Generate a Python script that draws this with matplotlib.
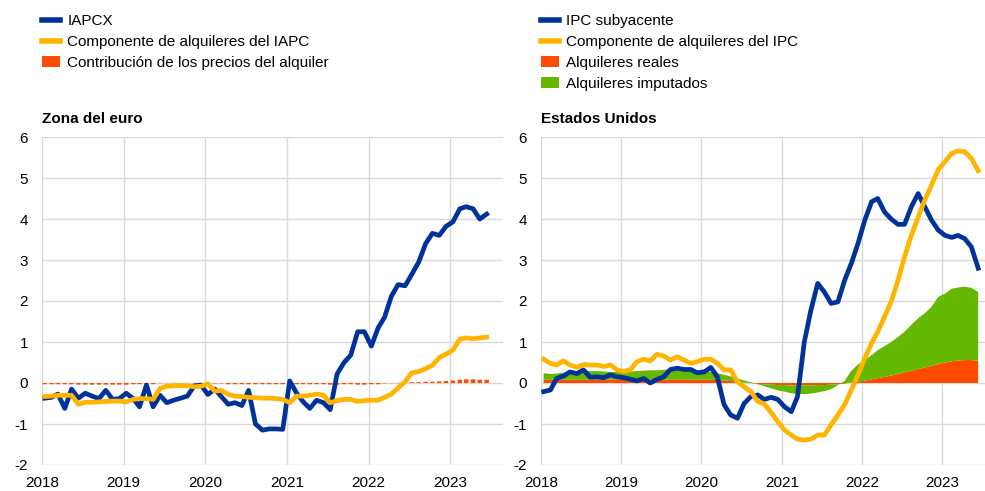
import matplotlib
matplotlib.use("Agg")
import matplotlib.pyplot as plt
import matplotlib.dates as mdates
from matplotlib.lines import Line2D
from matplotlib.patches import Patch
import numpy as np
import pandas as pd

plt.rcParams['font.family'] = ['Liberation Sans', 'DejaVu Sans']
plt.rcParams['axes.unicode_minus'] = False

# --- Data (monthly, Jan 2018 - Jun 2023) ---
months = pd.date_range('2018-01-01', periods=66, freq='MS') + pd.Timedelta(days=12)

# Zona del euro
ea_iapcx = [-0.37, -0.35, -0.27, -0.62, -0.15, -0.37, -0.25, -0.32, -0.38, -0.18, -0.40, -0.38,
            -0.25, -0.38, -0.58, -0.05, -0.58, -0.30, -0.48, -0.42, -0.37, -0.32, -0.07, -0.05,
            -0.28, -0.15, -0.33, -0.52, -0.48, -0.55, -0.18, -1.00, -1.15, -1.12, -1.12, -1.13,
            0.05, -0.25, -0.45, -0.62, -0.42, -0.48, -0.65, 0.22, 0.50, 0.68, 1.25, 1.25,
            0.90, 1.35, 1.60, 2.12, 2.40, 2.37, 2.65, 2.95, 3.40, 3.65, 3.60, 3.82,
            3.93, 4.25, 4.30, 4.25, 4.00, 4.12]
ea_rent = [-0.33, -0.32, -0.30, -0.30, -0.30, -0.52, -0.47, -0.47, -0.46, -0.45, -0.44, -0.44,
           -0.46, -0.40, -0.38, -0.38, -0.40, -0.13, -0.08, -0.07, -0.06, -0.07, -0.09, -0.08,
           -0.02, -0.20, -0.18, -0.28, -0.32, -0.33, -0.35, -0.36, -0.37, -0.37, -0.38, -0.40,
           -0.48, -0.32, -0.32, -0.30, -0.27, -0.30, -0.48, -0.43, -0.40, -0.40, -0.45, -0.43,
           -0.42, -0.42, -0.35, -0.27, -0.12, 0.03, 0.25, 0.28, 0.35, 0.43, 0.62, 0.70,
           0.80, 1.07, 1.10, 1.08, 1.10, 1.12]
ea_contrib = [-0.03, -0.03, -0.03, -0.03, -0.03, -0.04, -0.04, -0.04, -0.04, -0.04, -0.04, -0.04,
              -0.04, -0.03, -0.03, -0.03, -0.03, -0.005, -0.005, -0.005, -0.005, -0.005, -0.005, -0.005,
              -0.002, -0.01, -0.01, -0.03, -0.03, -0.03, -0.03, -0.03, -0.03, -0.03, -0.03, -0.03,
              -0.04, -0.03, -0.03, -0.03, -0.03, -0.03, -0.04, -0.04, -0.03, -0.03, -0.04, -0.04,
              -0.03, -0.03, -0.01, -0.005, -0.005, 0.01, 0.02, 0.02, 0.03, 0.03, 0.04, 0.05,
              0.06, 0.08, 0.09, 0.09, 0.08, 0.08]

# Estados Unidos
us_core = [-0.21, -0.17, 0.11, 0.17, 0.27, 0.23, 0.32, 0.14, 0.15, 0.13, 0.20, 0.15,
           0.13, 0.09, 0.05, 0.11, 0.00, 0.09, 0.15, 0.33, 0.36, 0.33, 0.33, 0.25,
           0.27, 0.38, 0.15, -0.53, -0.78, -0.86, -0.50, -0.33, -0.29, -0.40, -0.35, -0.40,
           -0.58, -0.70, -0.33, 1.00, 1.78, 2.43, 2.22, 1.94, 1.98, 2.50, 2.92, 3.40,
           3.97, 4.42, 4.50, 4.17, 4.00, 3.87, 3.87, 4.30, 4.62, 4.30, 3.97, 3.73,
           3.60, 3.55, 3.60, 3.52, 3.32, 2.80]
us_rent = [0.58, 0.48, 0.44, 0.54, 0.44, 0.38, 0.45, 0.44, 0.44, 0.40, 0.44, 0.32,
           0.28, 0.33, 0.52, 0.58, 0.54, 0.70, 0.66, 0.56, 0.64, 0.56, 0.48, 0.52,
           0.58, 0.58, 0.48, 0.32, 0.32, 0.03, -0.09, -0.21, -0.45, -0.51, -0.72, -0.94,
           -1.15, -1.27, -1.37, -1.39, -1.37, -1.27, -1.27, -1.02, -0.78, -0.53, -0.17, 0.20,
           0.60, 0.97, 1.25, 1.62, 1.98, 2.50, 3.08, 3.60, 4.05, 4.46, 4.83, 5.20,
           5.40, 5.60, 5.66, 5.64, 5.48, 5.18]
us_real = [0.08, 0.08, 0.08, 0.08, 0.08, 0.08, 0.08, 0.08, 0.08, 0.08, 0.08, 0.08,
           0.08, 0.08, 0.08, 0.08, 0.08, 0.08, 0.08, 0.08, 0.08, 0.08, 0.08, 0.08,
           0.08, 0.08, 0.07, 0.06, 0.05, 0.03, 0.01, 0.00, -0.02, -0.03, -0.04, -0.05,
           -0.05, -0.06, -0.06, -0.06, -0.06, -0.05, -0.05, -0.04, -0.03, -0.01, 0.01, 0.03,
           0.06, 0.09, 0.12, 0.15, 0.18, 0.22, 0.26, 0.30, 0.34, 0.38, 0.42, 0.46,
           0.50, 0.53, 0.55, 0.56, 0.56, 0.54]
us_imputed = [0.16, 0.14, 0.15, 0.17, 0.19, 0.20, 0.21, 0.21, 0.21, 0.20, 0.19, 0.19,
              0.19, 0.20, 0.21, 0.22, 0.23, 0.23, 0.24, 0.25, 0.25, 0.23, 0.21, 0.20,
              0.19, 0.19, 0.17, 0.14, 0.11, 0.08, 0.05, 0.02, -0.01, -0.05, -0.09, -0.13,
              -0.16, -0.19, -0.21, -0.21, -0.20, -0.18, -0.15, -0.11, -0.02, 0.06, 0.29, 0.42,
              0.50, 0.59, 0.68, 0.75, 0.82, 0.90, 0.99, 1.12, 1.24, 1.32, 1.44, 1.64,
              1.68, 1.77, 1.78, 1.79, 1.76, 1.68]

BLUE = '#003299'
YELLOW = '#FFB400'
RED = '#FF4B00'
GREEN = '#65B800'
GRID = '#d9d9d9'

W, H = 985, 491
fig = plt.figure(figsize=(W / 100, H / 100), dpi=100)

ax1 = fig.add_axes([42 / W, 26 / H, 461 / W, 328 / H])
ax2 = fig.add_axes([541 / W, 26 / H, 444 / W, 328 / H])


def style(ax, xend):
    ax.set_ylim(-2, 6)
    ax.set_yticks(range(-2, 7))
    ax.set_xlim(pd.Timestamp('2018-01-01'), pd.Timestamp(xend))
    ax.xaxis.set_major_locator(mdates.YearLocator())
    ax.xaxis.set_major_formatter(mdates.DateFormatter('%Y'))
    ax.grid(True, color=GRID, linewidth=1)
    ax.set_axisbelow(True)
    for s in ax.spines.values():
        s.set_visible(False)
    ax.tick_params(length=0, labelsize=11, colors='black')
    ax.tick_params(axis='y', pad=10)
    ax.tick_params(axis='x', pad=8)


LW = 3.4

# Left panel
ax1.bar(months, ea_contrib, width=20, color=RED, linewidth=0, snap=False, zorder=2)
ax1.plot(months, ea_iapcx, color=BLUE, linewidth=LW, zorder=3, solid_joinstyle='round')
ax1.plot(months, ea_rent, color=YELLOW, linewidth=LW, zorder=4, solid_joinstyle='round')
style(ax1, '2023-08-25')
ax1.text(0, 1.035, 'Zona del euro', transform=ax1.transAxes, fontsize=11,
         fontweight='bold', ha='left', va='bottom')

# Right panel
ax2.stackplot(months, us_real, us_imputed, colors=[RED, GREEN], zorder=2, linewidth=0)
ax2.plot(months, us_core, color=BLUE, linewidth=LW, zorder=3, solid_joinstyle='round')
ax2.plot(months, us_rent, color=YELLOW, linewidth=LW, zorder=4, solid_joinstyle='round')
style(ax2, '2023-07-14')
ax2.text(0, 1.035, 'Estados Unidos', transform=ax2.transAxes, fontsize=11,
         fontweight='bold', ha='left', va='bottom')

# Legends
leg_kw = dict(loc='upper left', frameon=False, fontsize=11, handlelength=1.2,
              handletextpad=0.45, labelspacing=0.45, borderpad=0, borderaxespad=0)
h1 = [Line2D([], [], color=BLUE, linewidth=4),
      Line2D([], [], color=YELLOW, linewidth=4),
      Patch(facecolor=RED)]
fig.legend(h1, ['IAPCX', 'Componente de alquileres del IAPC',
                'Contribución de los precios del alquiler'],
           bbox_to_anchor=(42 / W, 1 - 14 / H), **leg_kw)
h2 = [Line2D([], [], color=BLUE, linewidth=4),
      Line2D([], [], color=YELLOW, linewidth=4),
      Patch(facecolor=RED), Patch(facecolor=GREEN)]
fig.legend(h2, ['IPC subyacente', 'Componente de alquileres del IPC',
                'Alquileres reales', 'Alquileres imputados'],
           bbox_to_anchor=(541 / W, 1 - 14 / H), **leg_kw)

fig.savefig('out.png', dpi=100)
